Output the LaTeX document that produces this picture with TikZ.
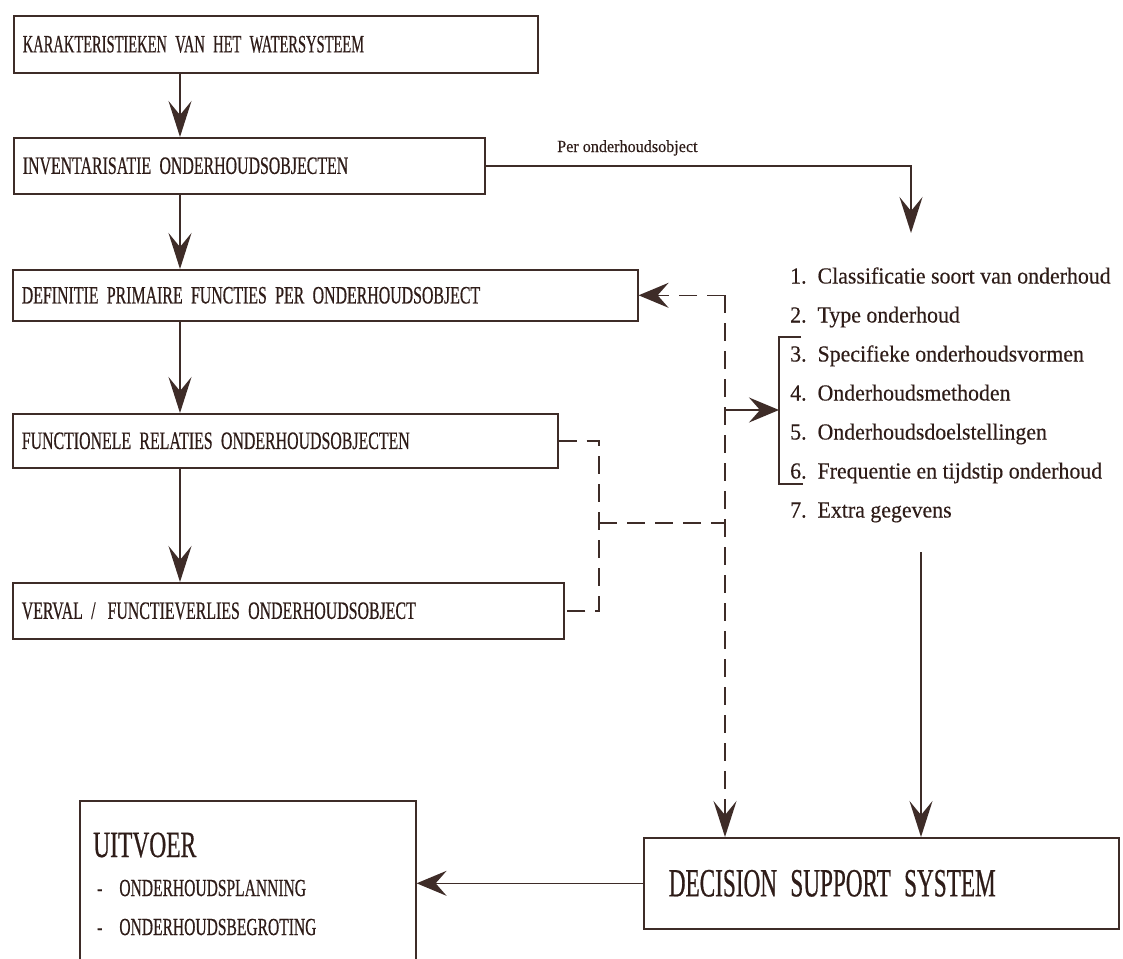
\documentclass[tikz,border=0pt]{standalone}
\usepackage{fontspec}
\setmainfont{Liberation Serif}
\newfontfamily\capsfont[FakeStretch=0.635, FakeBold=0.5]{Liberation Serif}
\newfontfamily\capsnarrow[FakeStretch=0.58, FakeBold=0.5]{Liberation Serif}
\newfontfamily\widecaps[FakeStretch=0.58, FakeBold=0.5]{Liberation Serif}
\newfontfamily\listfont[FakeStretch=0.95, FakeBold=0.3]{Liberation Serif}
\usetikzlibrary{arrows.meta}
\definecolor{ink}{RGB}{62,44,40}
\definecolor{textink}{RGB}{46,28,24}

\begin{document}
\begin{tikzpicture}[x=1pt,y=-1pt,
  every node/.style={text=textink},
  line/.style={draw=ink, line width=1.6pt},
  dashln/.style={line, dash pattern=on 18pt off 10pt},
  varrow/.style={line, -{Stealth[length=36pt,width=23pt,inset=14pt]}},
  harrow/.style={line, -{Stealth[length=30pt,width=25pt,inset=11pt]}},
  stepbox/.style={draw=ink, line width=1.6pt, rectangle, anchor=north west,
    inner xsep=9pt, inner ysep=0pt, align=left,
    font=\capsfont\fontsize{25}{30}\selectfont},
  item/.style={anchor=base west, inner sep=0pt,
    font=\listfont\fontsize{23}{26}\selectfont}]

% page
\useasboundingbox (0,0) rectangle (1123,958);
\clip (0,0) rectangle (1123,958);
\fill[white] (0,0) rectangle (1123,958);

% main chain of steps
\node[stepbox, text width=506pt, minimum height=57pt,
  font=\capsnarrow\fontsize{25}{30}\selectfont] (b1) at (13,15)
  {KARAKTERISTIEKEN VAN HET WATERSYSTEEM};
\node[stepbox, text width=453pt, minimum height=56pt] (b2) at (13,137)
  {INVENTARISATIE ONDERHOUDSOBJECTEN};
\node[stepbox, text width=607pt, minimum height=51pt] (b3) at (12,269)
  {DEFINITIE PRIMAIRE FUNCTIES PER ONDERHOUDSOBJECT};
\node[stepbox, text width=527pt, minimum height=54pt] (b4) at (12,413)
  {FUNCTIONELE RELATIES ONDERHOUDSOBJECTEN};
\node[stepbox, text width=533pt, minimum height=56pt] (b5) at (12,582)
  {VERVAL /\hspace{12pt}FUNCTIEVERLIES ONDERHOUDSOBJECT};

\coordinate (col) at (180,0);
\draw[varrow] (b1.south -| col) -- (b2.north -| col);
\draw[varrow] (b2.south -| col) -- (b3.north -| col);
\draw[varrow] (b3.south -| col) -- (b4.north -| col);
\draw[varrow] (b4.south -| col) -- (b5.north -| col);

% decision support system
\node[stepbox, text width=425pt, inner xsep=25pt, minimum height=91pt,
  font=\widecaps\fontsize{40}{44}\selectfont] (dss) at (643,837)
  {DECISION SUPPORT SYSTEM};

% output frame, running off the bottom edge
\node[draw=ink, line width=1.6pt, anchor=north west, inner sep=0pt,
  minimum width=336pt, minimum height=200pt] (uit) at (79,800) {};
\node[anchor=base west, inner sep=0pt,
  font=\capsfont\fontsize{37}{40}\selectfont] (uitT) at (93,857) {UITVOER};
\node[anchor=base west, inner sep=0pt,
  font=\capsfont\fontsize{24.5}{28}\selectfont] (uit1) at (97,896)
  {-\hspace{17pt}ONDERHOUDSPLANNING};
\node[anchor=base west, inner sep=0pt,
  font=\capsfont\fontsize{24.5}{28}\selectfont] (uit2) at (97,935)
  {-\hspace{17pt}ONDERHOUDSBEGROTING};
\draw[harrow] (dss.west) -- (uit.east |- dss.west);

% per object: list of items
\coordinate (perTip) at (911,233);
\draw[varrow] (b2.east) -| (perTip);
\node[anchor=base west, inner sep=0pt, font=\listfont\fontsize{17}{20}\selectfont]
  (perlbl) at (557,152) {Per onderhoudsobject};

\foreach \i/\t in {1/Classificatie soort van onderhoud,
                   2/Type onderhoud,
                   3/Specifieke onderhoudsvormen,
                   4/Onderhoudsmethoden,
                   5/Onderhoudsdoelstellingen,
                   6/Frequentie en tijdstip onderhoud,
                   7/Extra gegevens}
  \node[item] (it\i) at (790,{283.5+39*(\i-1)}) {\i.\hspace{11pt}\t};

% bracket around items 3 to 6
\coordinate (brTop) at (801,337);
\coordinate (brBot) at (803,484);
\coordinate (brMid) at (779,410);
\draw[line] (brTop) -- (brTop -| brMid) -- (brBot -| brMid) -- (brBot);

% list feeds the decision support system
\coordinate (lx) at (921,552);
\draw[varrow] (lx) -- (lx |- dss.north);

% dashed feedback trunk
\coordinate (tx) at (725,0);
\draw[dashln, -{Stealth[length=30pt,width=25pt,inset=11pt]}]
  (b3.east -| tx) -- (b3.east);
\draw[dashln, -{Stealth[length=36pt,width=23pt,inset=14pt]}]
  (b3.east -| tx) -- (tx |- dss.north);
\draw[harrow] (tx |- brMid) -- (brMid);

% dashed link from the relation and decay steps
\coordinate (fb) at (599,0);
\coordinate (fm) at (599,523);
\draw[dashln] (b4.east) -- (b4.east -| fb) -- (b5.east -| fb) -- (b5.east);
\draw[dashln] (fm) -- (fm -| tx);

\end{tikzpicture}
\end{document}
